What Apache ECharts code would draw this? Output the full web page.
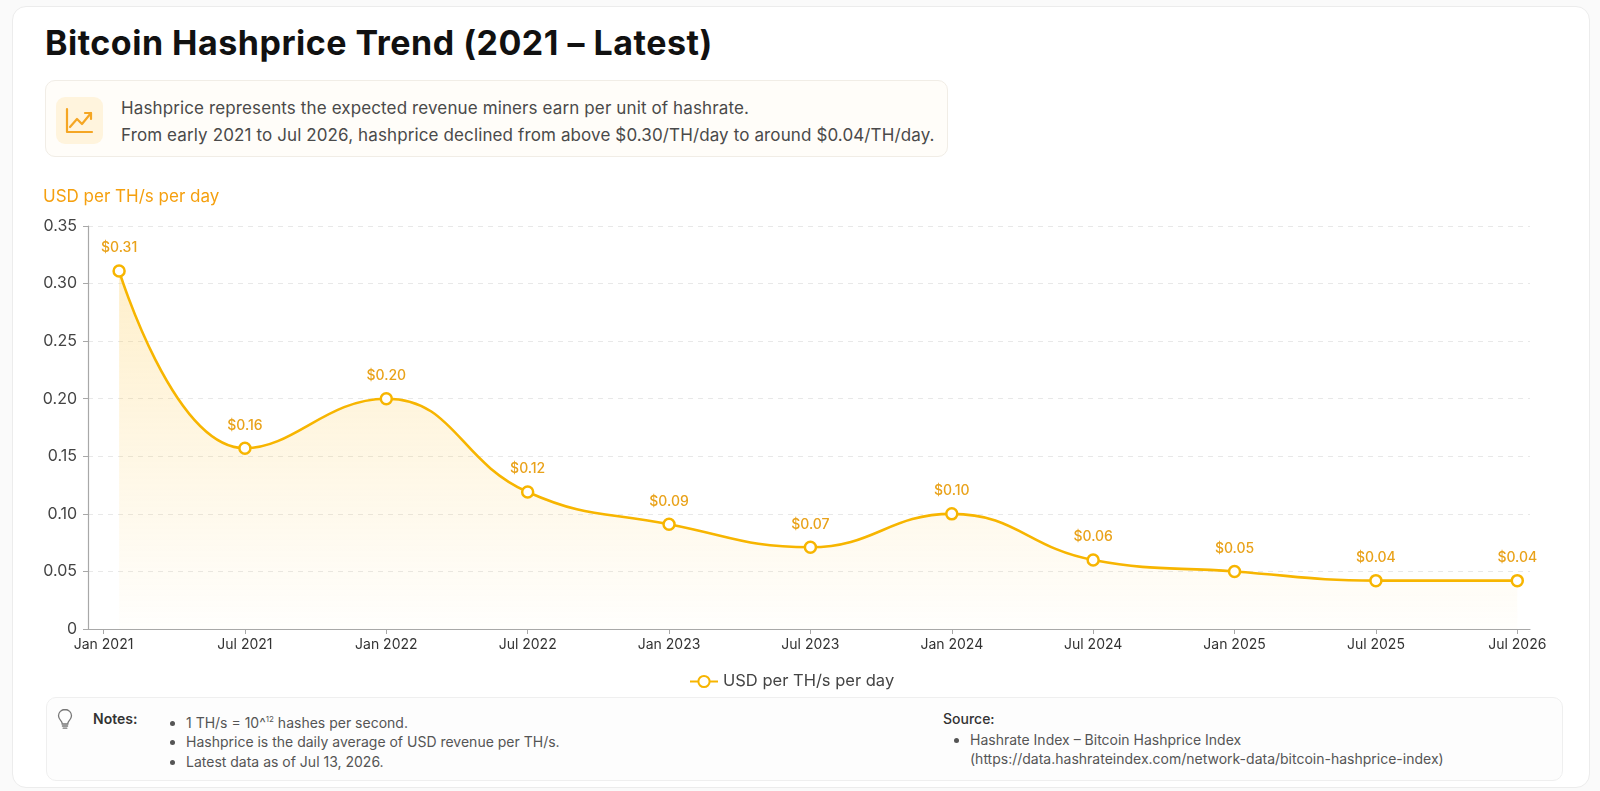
<!DOCTYPE html>
<html>
<head>
<meta charset="utf-8">
<script src="https://cdn.jsdelivr.net/npm/echarts@6/dist/echarts.min.js"></script>
<style>
  html, body { margin: 0; padding: 0; width: 1600px; height: 791px; background: #fafafa; font-family: Inter, "Noto Sans", sans-serif; overflow: hidden; }
  .card { position: absolute; left: 12px; top: 6px; width: 1578px; height: 782px; background: #fff; border: 1px solid #ececec; border-radius: 14px; box-sizing: border-box; }
  #chart { position: absolute; left: 0; top: 0; width: 1600px; height: 791px; }
  .title { position: absolute; left: 45px; top: 22px; font-size: 34px; font-weight: 700; color: #111; letter-spacing: 0.5px; }
  .info { position: absolute; left: 45px; top: 80px; width: 903px; height: 77px; background: #fffdf9; border: 1px solid #f1ede6; border-radius: 10px; box-sizing: border-box; }
  .info .ico { position: absolute; left: 10px; top: 16px; width: 47px; height: 47px; background: #fff4dd; border-radius: 9px; }
  .info .txt { position: absolute; left: 75px; top: 14px; font-size: 17px; line-height: 27px; color: #4a4a4a; white-space: nowrap; letter-spacing: 0.12px; }
  .notes { position: absolute; left: 46px; top: 697px; width: 1517px; height: 84px; background: #fdfdfd; border: 1px solid #efefef; border-radius: 10px; box-sizing: border-box; font-size: 14px; color: #555; }
  .notes .lbl { position: absolute; left: 46px; top: 12px; font-weight: 600; color: #333; }
  .notes ul { position: absolute; margin: 0; padding: 0 0 0 17px; list-style: disc; line-height: 19.5px; }
  .notes .src { position: absolute; left: 896px; top: 12px; font-weight: 500; color: #333; }
  .bulb { position: absolute; left: 10px; top: 10px; }
</style>
</head>
<body>
<div class="card"></div>
<div class="title">Bitcoin Hashprice Trend (2021 – Latest)</div>
<div class="info">
  <div class="ico">
    <svg width="47" height="47" viewBox="0 0 47 47">
      <path d="M11 12 V35 H36" fill="none" stroke="#f5a623" stroke-width="2.2" stroke-linecap="round" stroke-linejoin="round"/>
      <path d="M14 30 L21 22 L26 27 L35 16" fill="none" stroke="#f5a623" stroke-width="2.2" stroke-linecap="round" stroke-linejoin="round"/>
      <path d="M29 16 H35 V22" fill="none" stroke="#f5a623" stroke-width="2.2" stroke-linecap="round" stroke-linejoin="round"/>
    </svg>
  </div>
  <div class="txt">Hashprice represents the expected revenue miners earn per unit of hashrate.<br>From early 2021 to Jul 2026, hashprice declined from above $0.30/TH/day to around $0.04/TH/day.</div>
</div>
<div id="chart"></div>
<div class="notes">
  <svg class="bulb" width="16" height="22" viewBox="0 0 16 22">
    <path d="M8 1.5 C4.2 1.5 1.5 4.3 1.5 7.8 C1.5 10.3 3 11.8 4.2 13.2 C5 14.2 5.2 15 5.2 16 H10.8 C10.8 15 11 14.2 11.8 13.2 C13 11.8 14.5 10.3 14.5 7.8 C14.5 4.3 11.8 1.5 8 1.5 Z" fill="none" stroke="#777" stroke-width="1.3"/>
    <path d="M5.4 18 H10.6 M6.2 20.2 H9.8" stroke="#777" stroke-width="1.3" stroke-linecap="round"/>
  </svg>
  <div class="lbl">Notes:</div>
  <ul style="left:122px; top:12px;">
    <li>1 TH/s = 10^<sup style="font-size:8px;">12</sup> hashes per second.</li>
    <li>Hashprice is the daily average of USD revenue per TH/s.</li>
    <li>Latest data as of Jul 13, 2026.</li>
  </ul>
  <div class="src">Source:</div>
  <ul style="left:906px; top:31.5px;">
    <li>Hashrate Index – Bitcoin Hashprice Index<br>(https://data.hashrateindex.com/network-data/bitcoin-hashprice-index)</li>
  </ul>
</div>
<script>
// tick labels (one per half-year slot on the axis)
const categories = ['Jan 2021','Jul 2021','Jan 2022','Jul 2022','Jan 2023','Jul 2023','Jan 2024','Jul 2024','Jan 2025','Jul 2025','Jul 2026'];
// where each sample falls, in axis slots (first sample is a little after the Jan 2021 tick)
const sampleSlot = [0.11, 1, 2, 3, 4, 5, 6, 7, 8, 9, 10];
// hashprice, USD per TH/s per day
const hashprice = [0.311, 0.157, 0.200, 0.119, 0.091, 0.071, 0.100, 0.060, 0.050, 0.042, 0.042];
const seriesName = 'USD per TH/s per day';
const yTicks = [0, 0.05, 0.10, 0.15, 0.20, 0.25, 0.30, 0.35];

const chart = echarts.init(document.getElementById('chart'), null, { renderer: 'canvas' });
const points = hashprice.map((v, i) => [sampleSlot[i], v]);
chart.setOption({
  backgroundColor: 'transparent',
  textStyle: { fontFamily: 'Inter, "Noto Sans", sans-serif' },
  title: {
    text: seriesName, left: 38, top: 183,
    textStyle: { color: '#f5a00f', fontSize: 17, fontWeight: 'normal' }
  },
  legend: {
    data: [seriesName], left: 684, top: 668, itemWidth: 28, itemHeight: 14, itemGap: 10,
    textStyle: { color: '#444', fontSize: 16.5 }
  },
  grid: { left: 88, right: 70, top: 226, bottom: 162, containLabel: false },
  xAxis: {
    type: 'value', min: -0.11, max: 10.09, splitNumber: 10, minInterval: 1, maxInterval: 1,
    axisLine: { show: true, onZero: false, lineStyle: { color: '#a8a8a8', width: 1.2 } },
    axisTick: { show: true, length: 5, lineStyle: { color: '#a8a8a8' } },
    splitLine: { show: false },
    axisLabel: {
      color: '#333', fontSize: 14, margin: 9, showMinLabel: false, showMaxLabel: false,
      formatter: v => (Math.abs(v - Math.round(v)) < 1e-6 && categories[Math.round(v)]) ? categories[Math.round(v)] : ''
    }
  },
  yAxis: {
    type: 'value', min: 0, max: 0.35, interval: 0.05,
    axisLine: { show: true, onZero: false, lineStyle: { color: '#a8a8a8', width: 1.2 } },
    axisTick: { show: true, length: 5, lineStyle: { color: '#a8a8a8' } },
    splitLine: { show: true, lineStyle: { color: '#e8e8e8', type: [5, 5] } },
    axisLabel: {
      color: '#444', fontSize: 16, margin: 11,
      formatter: v => { const t = yTicks.find(x => Math.abs(x - v) < 1e-9); return t === 0 ? '0' : t.toFixed(2); }
    }
  },
  series: [{
    name: seriesName, type: 'line', data: points, smooth: 0.45,
    symbol: 'circle', symbolSize: 11,
    lineStyle: { color: '#f7b500', width: 2.6 },
    itemStyle: { color: '#fff', borderColor: '#f7b500', borderWidth: 2.5 },
    areaStyle: {
      color: new echarts.graphic.LinearGradient(0, 0, 0, 1, [
        { offset: 0, color: 'rgba(253, 196, 60, 0.38)' },
        { offset: 1, color: 'rgba(253, 196, 60, 0.02)' }
      ])
    },
    label: {
      show: true, position: 'top', distance: 9, color: '#e9a21a', fontSize: 14, fontWeight: 500,
      formatter: p => '$' + p.value[1].toFixed(2)
    }
  }]
});
</script>
</body>
</html>
